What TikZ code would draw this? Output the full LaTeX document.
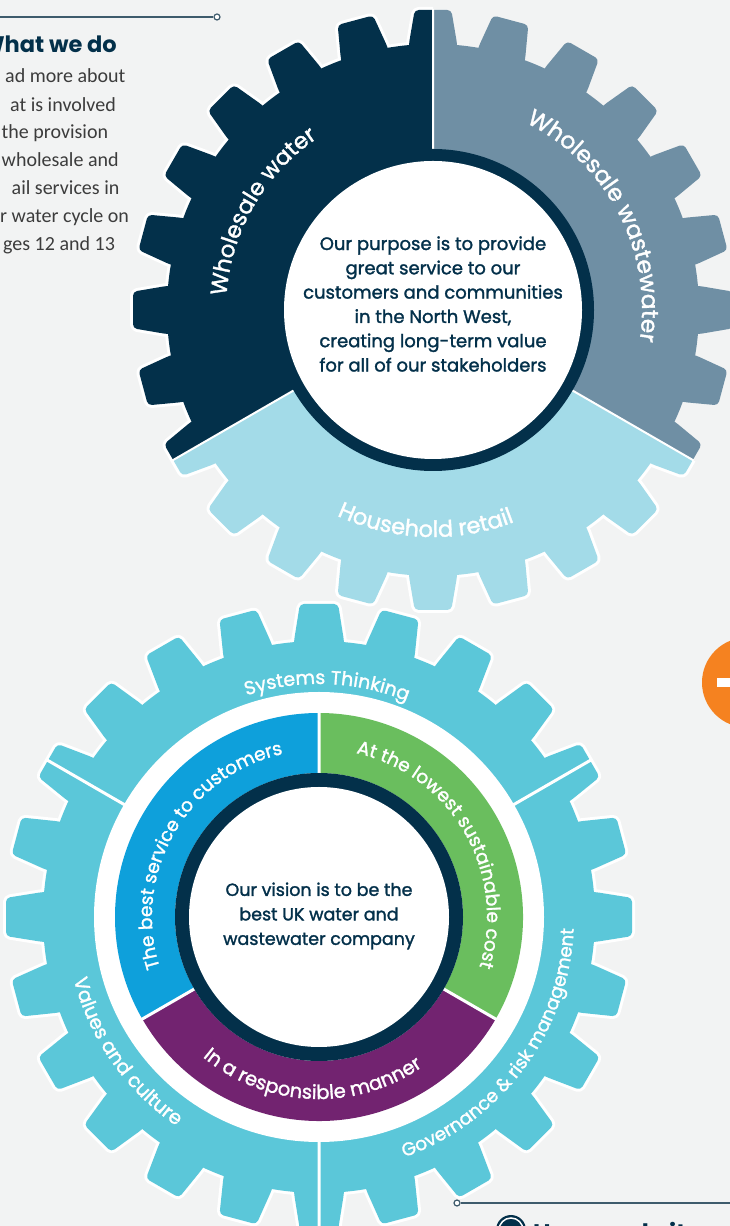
\documentclass[tikz,border=0pt]{standalone}
\usepackage{fontspec}
\usepackage{xcolor}
\newfontfamily\geofont{Poppins}[FakeBold=1.5]
\newfontfamily\geobold{Poppins}
\newfontfamily\thanfont{Carlito}
\definecolor{uunavy}{HTML}{03304A}
\definecolor{uuslate}{HTML}{6F8FA4}
\definecolor{uupale}{HTML}{A3DBE8}
\definecolor{uucyan}{HTML}{5BC7D9}
\definecolor{uublue}{HTML}{0EA0DB}
\definecolor{uugreen}{HTML}{6ABE5E}
\definecolor{uupurple}{HTML}{722370}
\definecolor{uuorange}{HTML}{F58220}
\definecolor{uubg}{HTML}{F2F3F3}
\definecolor{uugrey}{HTML}{3C3C3C}
\definecolor{uuline}{HTML}{3E5B6C}
\def\maunen{uubg}
\def\mauchu{uunavy}
\usetikzlibrary{decorations.text}
% gear: root radius, tip radius, style
\newcommand\banhrang[3]{%
	\fill[#3] (0,0) circle (#1);
	\foreach \goc in {0,15,...,345}{
		\fill[#3, rotate=\goc, rounded corners=4pt] (#1-14,-0.0906*#1) -- (#1,-0.0906*#1) -- (#2,-0.061*#2) -- (#2,0.061*#2) -- (#1,0.0906*#1) -- (#1-14,0.0906*#1) -- cycle;
	}}
\tikzset{
  cong/.style 2 args={decorate, decoration={text along path, text align=center, text color=white, text={|\geofont\fontsize{#1}{#1}\selectfont|#2}}},
  tamchu/.style={align=center, text=\mauchu, font=\geofont\fontsize{18}{24.3}\selectfont, inner sep=0pt},
  dongchu/.style={anchor=base west, text=uugrey, font=\thanfont\fontsize{20}{20}\selectfont, inner sep=0pt},
  nutdau/.style={circle, draw=uuline, fill=white, line width=1.2pt, inner sep=0pt, minimum size=6pt},
}
\begin{document}
\begin{tikzpicture}[x=1pt,y=1pt]
	\useasboundingbox (0,0) rectangle (730,1226);
	\clip (0,0) rectangle (730,1226);
	\fill[\maunen] (0,0) rectangle (730,1226);
	% side text, top left
	\coordinate (d0) at (-5,1209);
	\node[nutdau] (dau1) at (217,1209) {};
	\draw[uuline, line width=1.6pt] (d0) -- (dau1);
	\node[anchor=base east, inner sep=0pt, text=\mauchu, font=\geobold\bfseries\fontsize{22.5}{22.5}\selectfont] (tieude) at (117,1173) {What we do};
	\node[dongchu] (dong1) at (5,1143) {ad more about};
	\node[dongchu] (dong2) at (10,1114) {at is involved};
	\node[dongchu] (dong3) at (1.5,1087) {the provision};
	\node[dongchu] (dong4) at (1.5,1059) {wholesale and};
	\node[dongchu] (dong5) at (11.5,1031) {ail services in};
	\node[dongchu] (dong6) at (0,1003) {r water cycle on};
	\node[dongchu] (dong7) at (3,975) {ges 12 and 13};
	% orange disc, right edge
	\fill[uuorange] (747,543.5) circle (45);
	\fill[white] (717,539) rectangle (777,548);
	% lower gear
	\begin{scope}[shift={(319,309)}]
		\path (0,0) coordinate (O2);
		\banhrang{276}{313}{white, draw=white, line width=6pt, line join=round}
		\banhrang{276}{313}{uucyan}
		\draw[white, line width=3pt] (30:220) -- (30:314) (150:220) -- (150:314) (270:220) -- (270:314);
		\fill[white] (O2) circle (225);
		\fill[uublue] (90:204) arc (90:210:204) -- (210:144) arc (210:90:144) -- cycle;
		\fill[uugreen] (-30:204) arc (-30:90:204) -- (90:144) arc (90:-30:144) -- cycle;
		\fill[uupurple] (210:204) arc (210:330:204) -- (330:144) arc (330:210:144) -- cycle;
		\draw[white, line width=3pt] (90:140) -- (90:208) (210:140) -- (210:208) (330:140) -- (330:208);
		\fill[uunavy] (O2) circle (144);
		\fill[white] (O2) circle (130);
		\node[tamchu, font=\geofont\fontsize{17.5}{24.5}\selectfont] (tamnhin) at (0,1) {Our vision is to be the\\best UK water and\\wastewater company};
		\path[cong={19}{Systems Thinking}] (148:233) arc (148:28:233);
		\path[cong={19.5}{Values and culture}] (165:253) arc (165:265:253);
		\path[cong={18.5}{Governance {\&} risk management}] (256:255) arc (256:391:255);
		\path[cong={18.6}{The best service to customers}] (220:167) arc (220:80:167);
		\path[cong={18.6}{At the lowest sustainable cost}] (100:168) arc (100:-40:168);
		\path[cong={19.5}{In a responsible manner}] (200:182) arc (200:335:182);
	\end{scope}
	% upper gear
	\begin{scope}[shift={(433,916)}]
		\path (0,0) coordinate (O1);
		\begin{scope}
			\clip (0,0) -- (90:420) arc (90:330:420) -- cycle;
			\banhrang{266}{300}{white, draw=white, line width=6pt, line join=round}
		\end{scope}
		\foreach \mau/\tu/\den in {uunavy/90/210, uupale/210/330, uuslate/-30/90}{
			\begin{scope}
				\clip (0,0) -- (\tu:420) arc (\tu:\den:420) -- cycle;
				\banhrang{266}{300}{\mau}
			\end{scope}
		}
		\draw[white, line width=2pt] (90:150) -- (90:301) (210:150) -- (210:301) (330:150) -- (330:301);
		\fill[uunavy] (O1) circle (161);
		\fill[white] (O1) circle (149);
		\node[tamchu] (mucdich) at (0,6) {Our purpose is to provide\\great service to our\\customers and communities\\in the North West,\\creating long-term value\\for all of our stakeholders};
		\path[cong={22.7}{Wholesale water}] (200:207) arc (200:100:207);
		\path[cong={23.3}{Wholesale wastewater}] (80:209) arc (80:-25:209);
		\path[cong={22.5}{Household retail}] (210:227) arc (210:326:227);
	\end{scope}
	% bottom right
	\node[nutdau] (dau2) at (457,23) {};
	\coordinate (d2) at (735,23);
	\draw[uuline, line width=1.6pt] (dau2) -- (d2);
	\node[circle, fill=uunavy, inner sep=0pt, minimum size=30pt] (bieutuong) at (511,-4) {};
	\draw[white, line width=1.5pt] (bieutuong.center) circle (12);
	\node[anchor=base west, inner sep=0pt, text=\mauchu, font=\geobold\bfseries\fontsize{24}{24}\selectfont] (cachlam) at (533,-16) {How we do it};
\end{tikzpicture}
\end{document}
